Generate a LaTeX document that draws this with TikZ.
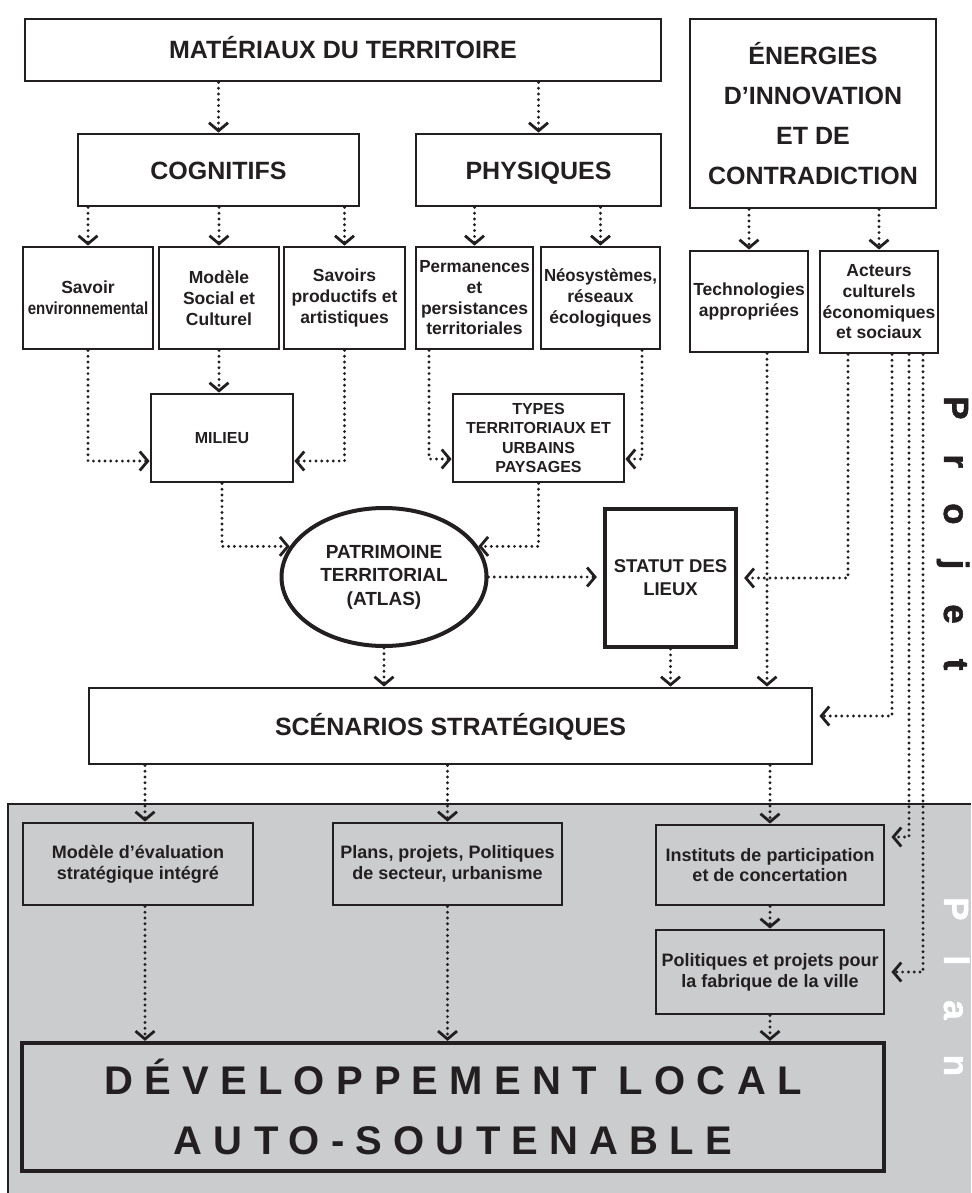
\documentclass[tikz,border=0pt]{standalone}
\usepackage{fontspec}
\setmainfont{Liberation Sans}
\newfontfamily\spacedfont[LetterSpace=28]{Liberation Sans}
\newfontfamily\sidefont[LetterSpace=100, BoldFeatures={FakeBold=1.5}]{Liberation Sans}
\usepackage{graphicx}
\usetikzlibrary{arrows.meta,calc,positioning,shapes.geometric}
\tikzset{
  box/.style={draw=ink, fill=white, line width=2.8pt, align=center, inner sep=2pt, text=ink},
  thick box/.style={box, line width=4.2pt},
  sz/.style 2 args={minimum width=#1pt, minimum height=#2pt},
  big/.style={font=\bfseries\fontsize{25}{40}\selectfont},
  oneline/.style={text height=18pt, text depth=0pt},
  lthree/.style={font=\bfseries\fontsize{17.5}{20.7}\selectfont},
  mid/.style={font=\bfseries\fontsize{16}{19.5}\selectfont},
  lfive/.style={font=\bfseries\fontsize{18}{20.7}\selectfont},
  flow/.style={draw=ink, line width=3.2pt, line cap=round, dash pattern=on 0pt off 5.8pt,
    -{Straight Barb[length=8pt,width=19pt,line width=2.8pt]}},
  gap/.style={shorten >=6pt}}

\begin{document}
\begin{tikzpicture}[x=1pt,y=-1pt, every node/.style={inner sep=0pt}]
\definecolor{ink}{HTML}{231F20}\definecolor{plan}{HTML}{CBCCCE}
\useasboundingbox (0,0) rectangle (971,1193);
% zone du plan
\fill[plan] (8,804) rectangle (971,1193);
\draw[ink, line width=1.2pt] (971,804) -- (8,804) -- (8,1193);

% niveau 1
\node[box, big, oneline, sz={636}{62}] (mat) at (343,50) {MATÉRIAUX DU TERRITOIRE};
\node[box, big, sz={246}{189}] (ener) at (813,113.5) {ÉNERGIES\\D’INNOVATION\\ET DE\\CONTRADICTION};
\node[box, big, oneline, sz={281}{72}] (cog) at (218.5,170) {COGNITIFS};
\node[box, big, oneline, sz={245}{72}] (phy) at (538.5,170) {PHYSIQUES};

% niveau 2
\node[box, lthree, sz={130}{102}] (sav) at (88,298) {Savoir\\\scalebox{0.86}[1]{environnemental}};
\node[box, lthree, sz={120}{102}] (mod) at (219,298) {Modèle\\Social et\\Culturel};
\node[box, lthree, sz={121}{102}] (prod) at (344.5,298) {Savoirs\\productifs et\\artistiques};
\node[box, lthree, sz={117}{102}] (perm) at (474.5,298) {\scalebox{0.97}[1]{Permanences}\\et\\persistances\\territoriales};
\node[box, lthree, sz={119}{102}] (neo) at (600.5,298) {\scalebox{0.96}[1]{Néosystèmes,}\\réseaux\\écologiques};
\node[box, lthree, sz={118}{101}] (tech) at (749,301.5) {Technologies\\appropriées};
\node[box, lthree, sz={118}{102}] (act) at (879,302) {Acteurs\\culturels\\économiques\\et sociaux};

% niveau 3
\node[box, mid, sz={142}{88}] (mil) at (222,438) {MILIEU};
\node[box, mid, sz={171}{88}] (typ) at (538.5,438) {TYPES\\TERRITORIAUX ET\\URBAINS\\PAYSAGES};
\node[ellipse, draw=ink, fill=white, line width=4pt, align=center, text=ink, sz={205}{138},
  font=\bfseries\fontsize{19}{23.5}\selectfont] (pat) at (384,577) {PATRIMOINE\\TERRITORIAL\\(ATLAS)};
\node[thick box, sz={131}{138}, font=\bfseries\fontsize{18.5}{23}\selectfont] (sta) at (670.5,578) {STATUT DES\\LIEUX};
\node[box, big, oneline, sz={723}{76}] (scen) at (450.5,726) {SCÉNARIOS STRATÉGIQUES};

% plan
\node[box, lfive, fill=plan, sz={230}{82}] (eval) at (138,864) {Modèle d’évaluation\\stratégique intégré};
\node[box, lfive, fill=plan, sz={229}{82}] (plans) at (447.5,864) {Plans, projets, Politiques\\de secteur, urbanisme};
\node[box, lfive, fill=plan, sz={228}{80}] (inst) at (770,865) {Instituts de participation\\et de concertation};
\node[box, lfive, fill=plan, sz={228}{84}] (pol) at (770,972) {Politiques et projets pour\\la fabrique de la ville};
\node[thick box, fill=plan, sz={862}{128}, font=\spacedfont\bfseries\fontsize{40}{60}\selectfont] (dev) at (453,1107) {DÉVELOPPEMENT LOCAL\\AUTO-SOUTENABLE};

% textes verticaux
\node[rotate=-90, anchor=base west, text=ink, font=\sidefont\bfseries\fontsize{35}{35}\selectfont] (projet) at (944,396) {Projet};
\node[rotate=-90, anchor=base west, text=white, font=\sidefont\bfseries\fontsize{35}{35}\selectfont] (plantxt) at (944,897) {Plan};

% liaisons
\draw[flow] (mat.south -| cog) -- (cog.north);
\draw[flow] (mat.south -| phy) -- (phy.north);
\foreach \n in {sav,mod,prod} \draw[flow] (cog.south -| \n) -- (\n.north);
\foreach \n in {perm,neo} \draw[flow] (phy.south -| \n) -- (\n.north);
\foreach \n in {tech,act} \draw[flow] (ener.south -| \n) -- (\n.north);
\draw[flow] (mod.south) -- (mod.south |- mil.north);
\draw[flow] (sav.south) |- ([yshift=-23pt]mil.west);
\draw[flow] (prod.south) |- ([yshift=-23pt]mil.east);
\coordinate (p1) at ([xshift=-45.5pt]perm.south);
\coordinate (n1) at ([xshift=41.5pt]neo.south);
\draw[flow] (p1) |- ([yshift=-21pt]typ.west);
\draw[flow] (n1) |- ([yshift=-21pt]typ.east);
\draw[flow] (mil.south) |- (pat.162);
\draw[flow] (typ.south) |- (pat.18);
\draw[flow, gap] (pat.east) -- (pat.east -| sta.west);
\coordinate (a1) at ([xshift=-31pt]act.south);
\coordinate (a2) at ([xshift=13pt]act.south);
\coordinate (a3) at ([xshift=30pt]act.south);
\coordinate (a4) at ([xshift=44pt]act.south);
\coordinate (t1) at ([xshift=18pt]tech.south);
\draw[flow, gap] (a1) |- (sta.east);
\draw[flow] (pat.south) -- (pat.south |- scen.north);
\draw[flow] (sta.south) -- (sta.south |- scen.north);
\draw[flow] (t1) -- (t1 |- scen.north);
\draw[flow, gap] (a2) |- ([yshift=10pt]scen.east);
\draw[flow, gap] (a3) |- ([yshift=28pt]inst.east);
\draw[flow, gap] (a4) |- (pol.east);
\coordinate (e1) at ([xshift=7pt]eval.north);
\coordinate (e2) at ([xshift=7pt]eval.south);
\draw[flow] (scen.south -| e1) -- (e1);
\draw[flow] (scen.south -| plans) -- (plans.north);
\draw[flow] (scen.south -| inst) -- (inst.north);
\draw[flow] (inst.south) -- (pol.north);
\draw[flow] (e2) -- (e2 |- dev.north);
\draw[flow] (plans.south) -- (plans.south |- dev.north);
\draw[flow] (pol.south) -- (pol.south |- dev.north);
\end{tikzpicture}
\end{document}
